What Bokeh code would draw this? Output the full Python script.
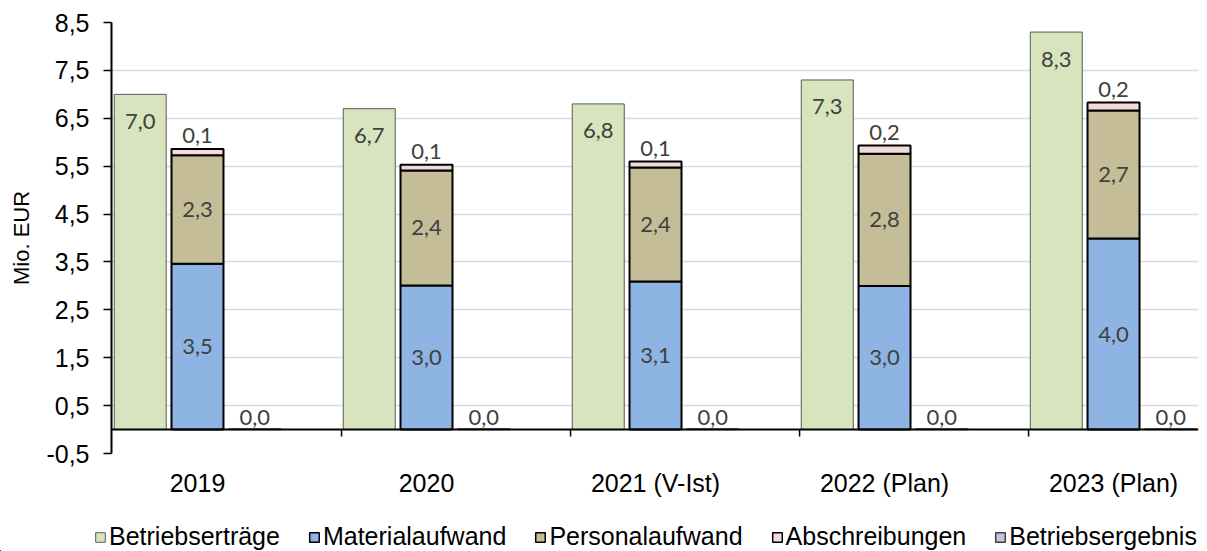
from bokeh.plotting import figure
from bokeh.layouts import column
from bokeh.models import ColumnDataSource, Range1d, FixedTicker, Legend, LegendItem, Span
from bokeh.core.properties import value
from bokeh.embed import file_html
from bokeh.resources import INLINE

# ---- data (Mio. EUR) ----
years = ["2019", "2020", "2021 (V-Ist)", "2022 (Plan)", "2023 (Plan)"]
betriebsertraege = [7.0, 6.7, 6.8, 7.3, 8.3]
materialaufwand = [3.46, 3.01, 3.09, 3.0, 3.99]
personalaufwand = [2.27, 2.40, 2.38, 2.76, 2.67]
abschreibungen = [0.13, 0.12, 0.13, 0.17, 0.17]
betriebsergebnis = [0.01, 0.01, 0.01, 0.01, 0.01]
series_names = ["Betriebserträge", "Materialaufwand", "Personalaufwand",
                "Abschreibungen", "Betriebsergebnis"]
y_ticks = [-0.5, 0.5, 1.5, 2.5, 3.5, 4.5, 5.5, 6.5, 7.5, 8.5]
y_tick_labels = ["-0,5", "0,5", "1,5", "2,5", "3,5", "4,5", "5,5", "6,5", "7,5", "8,5"]

# ---- styling ----
colors = ["#D7E4BD", "#8EB4E3", "#C4BD97", "#F2DCDB", "#CCC1DA"]
line_colors = ["#595959", "black", "black", "black", "#404040"]
line_widths = [1, 2, 2, 2, 1.5]
AX_FONT = "Liberation Sans"
LBL_FONT = "Lato"
BAR_W = 0.227
OFFS = 0.25
SEP = 0.629               # category separator tick offset
PLOT_H, LEG_H = 520, 31
FRAME_H = 431
Y_SPAN = 9.0
TICK_LEN = 7 * Y_SPAN / FRAME_H   # 7 px in data units


def fmt(v):
    return f"{v:.1f}".replace(".", ",")


n = len(years)
idx = list(range(n))
abs_top = [m + p + a for m, p, a in zip(materialaufwand, personalaufwand, abschreibungen)]

src = ColumnDataSource(dict(
    x=idx,
    xg=[i - OFFS for i in idx],
    xe=[i + OFFS for i in idx],
    ertraege=betriebsertraege,
    material=materialaufwand,
    personal=personalaufwand,
    abschr=abschreibungen,
    ergebnis=betriebsergebnis,
    mat_mid=[m / 2 for m in materialaufwand],
    pers_mid=[m + p / 2 for m, p in zip(materialaufwand, personalaufwand)],
    abs_top=abs_top,
    l_ertr=[fmt(v) for v in betriebsertraege],
    l_mat=[fmt(v) for v in materialaufwand],
    l_pers=[fmt(v) for v in personalaufwand],
    l_abs=[fmt(v) for v in abschreibungen],
    l_erg=[fmt(v) for v in betriebsergebnis],
))
sep_x = [i + SEP for i in idx[:-1]]
sep_src = ColumnDataSource(dict(xb=sep_x, y0=[0] * len(sep_x), y1=[-TICK_LEN] * len(sep_x)))

p = figure(width=1207, height=PLOT_H,
           x_range=Range1d(-0.3755, 4.371), y_range=Range1d(-0.5, 8.5),
           output_backend="svg", toolbar_location=None,
           min_border_left=111, min_border_right=9,
           min_border_top=22, min_border_bottom=PLOT_H - 22 - FRAME_H)
p.outline_line_color = None
p.background_fill_color = "white"
p.border_fill_color = "white"

# grid
p.xgrid.visible = False
p.ygrid.grid_line_color = "#D9D9D9"
p.ygrid.grid_line_width = 1.5

# y axis
p.yaxis.ticker = FixedTicker(ticks=y_ticks)
p.yaxis.major_label_overrides = {t: l for t, l in zip(y_ticks, y_tick_labels)}
p.yaxis.axis_line_color = "black"
p.yaxis.axis_line_width = 2
p.yaxis.major_tick_line_color = "black"
p.yaxis.major_tick_line_width = 1.5
p.yaxis.major_tick_out = 8
p.yaxis.major_tick_in = 0
p.yaxis.minor_tick_line_color = None
p.yaxis.major_label_standoff = 14
p.yaxis.major_label_text_font = AX_FONT
p.yaxis.major_label_text_font_size = "25px"
p.yaxis.major_label_text_color = "black"
p.yaxis.axis_label = "Mio. EUR"
p.yaxis.axis_label_text_font = AX_FONT
p.yaxis.axis_label_text_font_size = "22px"
p.yaxis.axis_label_text_font_style = "normal"
p.yaxis.axis_label_text_color = "black"
p.yaxis.axis_label_standoff = 9

# x axis with category labels (bottom of plot area)
xax = p.xaxis[0]
xax.ticker = FixedTicker(ticks=idx)
xax.major_label_overrides = {i: y for i, y in zip(idx, years)}
xax.axis_line_color = None
xax.major_tick_line_color = None
xax.major_tick_out = 0
xax.major_tick_in = 0
xax.minor_tick_line_color = None
xax.major_label_standoff = 15
xax.major_label_text_font = AX_FONT
xax.major_label_text_font_size = "25px"
xax.major_label_text_color = "black"

# bars
r_ertr = p.vbar(x="xg", top="ertraege", bottom=0, width=BAR_W, source=src,
                fill_color=colors[0], line_color=line_colors[0], line_width=line_widths[0])
r_stack = p.vbar_stack(["material", "personal", "abschr"], x="x", width=BAR_W, source=src,
                       fill_color=colors[1:4], line_color="black", line_width=2)
r_erg = p.vbar(x="xe", top="ergebnis", bottom=0, width=BAR_W, source=src,
               fill_color=colors[4], line_color=line_colors[4], line_width=line_widths[4])

# zero line and category separator ticks
p.add_layout(Span(location=0, dimension="width", line_color="black", line_width=2))
p.segment(x0="xb", y0="y0", x1="xb", y1="y1", source=sep_src,
          line_color="black", line_width=1.5)

# data labels
lbl = dict(source=src, text_font=value(LBL_FONT), text_font_size="22px",
           text_color="#404040", text_align="center", text_baseline="middle")
p.text(x="xg", y="ertraege", text="l_ertr", y_offset=27, **lbl)
p.text(x="x", y="mat_mid", text="l_mat", **lbl)
p.text(x="x", y="pers_mid", text="l_pers", **lbl)
p.text(x="x", y="abs_top", text="l_abs", y_offset=-13, **lbl)
p.text(x="xe", y="ergebnis", text="l_erg", y_offset=-12, **lbl)

# legend strip (separate figure below the chart; its bars lie outside its view)
lf = figure(width=1207, height=LEG_H, x_range=Range1d(100, 101), y_range=Range1d(100, 101),
            output_backend="svg", toolbar_location=None,
            x_axis_location=None, y_axis_location=None, min_border=0)
lf.outline_line_color = None
lf.xgrid.visible = False
lf.ygrid.visible = False
for fig in (p, lf):
    try:
        fig.frame_align = False
    except Exception:
        pass
series_cols = ["ertraege", "material", "personal", "abschr", "ergebnis"]
items = []
for nm, col, fc, lc, lw in zip(series_names, series_cols, colors, line_colors, line_widths):
    r = lf.vbar(x="x", top=col, bottom=0, width=BAR_W, source=src,
                fill_color=fc, line_color=lc, line_width=min(lw, 1.5))
    items.append(LegendItem(label=nm, renderers=[r]))
legend = Legend(items=items, orientation="horizontal", location=(94, 0),
                padding=0, margin=0, border_line_color=None, background_fill_alpha=0,
                label_text_font=AX_FONT, label_text_font_size="25px", label_text_color="black",
                glyph_width=12, glyph_height=12, label_standoff=3, spacing=28)
lf.add_layout(legend, "center")

layout = column(p, lf, spacing=0)
open("out.html", "w").write(file_html(layout, INLINE))
